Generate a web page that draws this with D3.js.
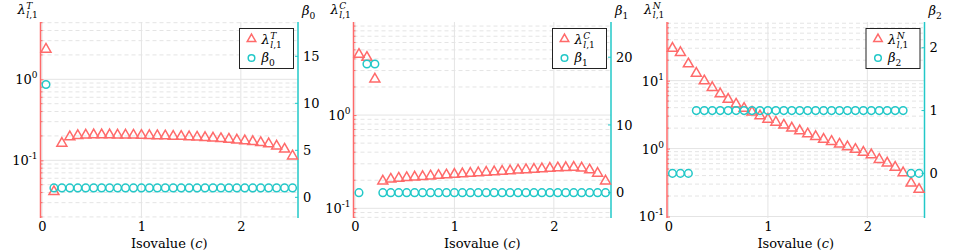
<!DOCTYPE html>
<html>
<head>
<meta charset="utf-8">
<script src="https://cdn.jsdelivr.net/npm/d3@7"></script>
<style>
  body { margin: 0; background: #fff; }
  svg text { font-family: "DejaVu Serif", "Liberation Serif", serif; fill: #000; }
</style>
</head>
<body>
<div id="chart"></div>
<script>
var svgWidth = 960;
var svgHeight = 252;

// isovalues (shared x for all panels)
var isovalues = [0.04, 0.12, 0.20, 0.28, 0.36, 0.44, 0.52, 0.60, 0.68, 0.76, 0.84, 0.92,
    1.00, 1.08, 1.16, 1.24, 1.32, 1.40, 1.48, 1.56, 1.64, 1.72, 1.80, 1.88,
    1.96, 2.04, 2.12, 2.20, 2.28, 2.36, 2.44, 2.52];

var lambdaT = [2.35, 0.041, 0.162, 0.195, 0.202, 0.205, 0.206, 0.206, 0.206, 0.205, 0.205, 0.204,
    0.203, 0.202, 0.201, 0.200, 0.198, 0.197, 0.195, 0.193, 0.191, 0.188, 0.185, 0.182,
    0.178, 0.174, 0.170, 0.165, 0.160, 0.150, 0.137, 0.113];
var beta0 = [12, 1, 1, 1, 1, 1, 1, 1, 1, 1, 1, 1, 1, 1, 1, 1,
    1, 1, 1, 1, 1, 1, 1, 1, 1, 1, 1, 1, 1, 1, 1, 1];

var lambdaC = [4.47, 4.15, 2.43, 0.196, 0.205, 0.210, 0.213, 0.216, 0.219, 0.222, 0.225, 0.228,
    0.231, 0.234, 0.237, 0.240, 0.243, 0.246, 0.249, 0.252, 0.256, 0.259, 0.262, 0.265,
    0.268, 0.271, 0.273, 0.275, 0.270, 0.258, 0.237, 0.196];
var beta1 = [0, 19, 19, 0, 0, 0, 0, 0, 0, 0, 0, 0, 0, 0, 0, 0,
    0, 0, 0, 0, 0, 0, 0, 0, 0, 0, 0, 0, 0, 0, 0, 0];

var lambdaN = [29.9, 25.9, 17.6, 12.8, 9.9, 7.9, 6.4, 5.3, 4.5, 3.9, 3.43, 3.02,
    2.7, 2.44, 2.21, 2.0, 1.82, 1.64, 1.5, 1.37, 1.27, 1.16, 1.06, 0.97,
    0.88, 0.81, 0.69, 0.61, 0.53, 0.44, 0.31, 0.25];
var beta2 = [0, 0, 0, 1, 1, 1, 1, 1, 1, 1, 1, 1, 1, 1, 1, 1,
    1, 1, 1, 1, 1, 1, 1, 1, 1, 1, 1, 1, 1, 1, 0, 0];

var xTicks = [0, 1, 2];
var betaTicks = [[0, 5, 10, 15], [0, 10, 20], [0, 1, 2]];

var red = "#ff6a6a";
var cyan = "#22c8c8";

var panels = [
    { left: 40.5, lam: lambdaT, beta: beta0, sup: "T", bsub: "0", logDom: [0.0194, 5.1], betaDom: [-2.2, 18.65], betaTicks: betaTicks[0], legX: 239.5 },
    { left: 353.5, lam: lambdaC, beta: beta1, sup: "C", bsub: "1", logDom: [0.0787, 9.95], betaDom: [-3.74, 25.2], betaTicks: betaTicks[1], legX: 552.5 },
    { left: 667, lam: lambdaN, beta: beta2, sup: "N", bsub: "2", logDom: [0.095, 73], betaDom: [-0.71, 2.41], betaTicks: betaTicks[2], legX: 866 }
];

var plotW = 257.5;
var plotTop = 22;
var plotBottom = 218;
var fontSize = 13;

var svg = d3.select("#chart")
    .append("svg")
    .attr("width", svgWidth)
    .attr("height", svgHeight);

// lambda with stacked super/subscript
function lambdaLabel(g, x, y, sup, size) {
    var t = g.append("text").attr("x", x).attr("y", y)
        .attr("font-size", size).attr("font-style", "italic").text("λ");
    var w = t.node().getComputedTextLength();
    g.append("text").attr("x", x + w + 0.5).attr("y", y - size * 0.42)
        .attr("font-size", size * 0.7).attr("font-style", "italic").text(sup);
    g.append("text").attr("x", x + w + 0.5).attr("y", y + size * 0.3)
        .attr("font-size", size * 0.7)
        .html('<tspan font-style="italic">l</tspan>,1');
}

function betaLabel(g, x, y, sub, size) {
    var t = g.append("text").attr("x", x).attr("y", y)
        .attr("font-size", size).attr("font-style", "italic").text("β");
    var w = t.node().getComputedTextLength();
    g.append("text").attr("x", x + w).attr("y", y + size * 0.3)
        .attr("font-size", size * 0.7).text(sub);
}

function triPath(s) {
    var h = s * Math.sqrt(3) / 2;
    return "M0," + (-h * 2 / 3) + "L" + (s / 2) + "," + (h / 3) + "L" + (-s / 2) + "," + (h / 3) + "Z";
}

panels.forEach(function (p) {
    var g = svg.append("g");

    var x = d3.scaleLinear().domain([-0.015, 2.575]).range([p.left, p.left + plotW]);
    var yL = d3.scaleLog().domain(p.logDom).range([plotBottom, plotTop]);
    var yR = d3.scaleLinear().domain(p.betaDom).range([plotBottom, plotTop]);

    // log gridlines: minor dashed, decades solid
    var lo = Math.floor(Math.log10(p.logDom[0]));
    var hi = Math.ceil(Math.log10(p.logDom[1]));
    var minor = [], major = [];
    for (var e = lo; e <= hi; e++) {
        for (var m = 1; m < 10; m++) {
            var v = m * Math.pow(10, e);
            if (v < p.logDom[0] || v > p.logDom[1]) continue;
            if (m === 1) major.push(v); else minor.push(v);
        }
    }

    g.append("g").selectAll("line").data(minor).enter().append("line")
        .attr("x1", p.left).attr("x2", p.left + plotW)
        .attr("y1", d => yL(d)).attr("y2", d => yL(d))
        .attr("stroke", "#e4e4e4").attr("stroke-width", 1)
        .attr("stroke-dasharray", "4,3");

    g.append("g").selectAll("line").data(major).enter().append("line")
        .attr("x1", p.left).attr("x2", p.left + plotW)
        .attr("y1", d => yL(d)).attr("y2", d => yL(d))
        .attr("stroke", "#e4e4e4").attr("stroke-width", 1);

    g.append("g").selectAll("line").data(xTicks).enter().append("line")
        .attr("x1", d => x(d)).attr("x2", d => x(d))
        .attr("y1", plotTop).attr("y2", plotBottom)
        .attr("stroke", "#e4e4e4").attr("stroke-width", 1);

    // left (log) axis
    var leftAxis = d3.axisLeft(yL).tickValues(major).tickSize(-3).tickFormat("");
    var la = g.append("g").attr("transform", `translate(${p.left},0)`).call(leftAxis);
    la.select(".domain").remove();
    la.selectAll(".tick line").attr("stroke", red);
    g.append("g").selectAll("line").data(minor).enter().append("line")
        .attr("x1", p.left).attr("x2", p.left + 2)
        .attr("y1", d => yL(d)).attr("y2", d => yL(d))
        .attr("stroke", red).attr("stroke-width", 1);
    g.append("line").attr("x1", p.left).attr("x2", p.left)
        .attr("y1", plotTop).attr("y2", plotBottom)
        .attr("stroke", red).attr("stroke-width", 1.5);

    major.forEach(function (v) {
        var ex = Math.round(Math.log10(v));
        g.append("text").attr("x", p.left - 3).attr("y", yL(v) + 5)
            .attr("text-anchor", "end").attr("font-size", fontSize)
            .html('10<tspan dy="-6" font-size="9">' + ex + '</tspan>');
    });

    // right (linear) axis
    var rightAxis = d3.axisRight(yR).tickValues(p.betaTicks).tickSize(0).tickPadding(5)
        .tickFormat(d3.format("d"));
    var ra = g.append("g").attr("transform", `translate(${p.left + plotW},0)`).call(rightAxis);
    ra.select(".domain").remove();
    ra.attr("font-family", null).attr("font-size", null);
    ra.selectAll(".tick text").attr("font-size", fontSize).attr("fill", "#000");
    g.append("g").selectAll("line").data(p.betaTicks).enter().append("line")
        .attr("x1", p.left + plotW - 3).attr("x2", p.left + plotW)
        .attr("y1", d => yR(d)).attr("y2", d => yR(d))
        .attr("stroke", cyan).attr("stroke-width", 1);
    g.append("line").attr("x1", p.left + plotW).attr("x2", p.left + plotW)
        .attr("y1", plotTop).attr("y2", plotBottom)
        .attr("stroke", cyan).attr("stroke-width", 1.5);

    // x tick labels
    var bottomAxis = d3.axisBottom(x).tickValues(xTicks).tickSize(0).tickPadding(4).tickFormat(d3.format("d"));
    var ba = g.append("g").attr("transform", `translate(0,${plotBottom})`).call(bottomAxis);
    ba.select(".domain").remove();
    ba.attr("font-family", null).attr("font-size", null);
    ba.selectAll(".tick text").attr("font-size", fontSize).attr("fill", "#000");

    g.append("text").attr("x", p.left + plotW / 2).attr("y", 248)
        .attr("text-anchor", "middle").attr("font-size", fontSize)
        .html('Isovalue (<tspan font-style="italic">c</tspan>)');

    // axis titles
    lambdaLabel(g, p.left - 23, 14, p.sup, fontSize);
    betaLabel(g, p.left + plotW + 4, 15, p.bsub, fontSize);

    // markers
    g.append("g").selectAll("path").data(p.lam).enter().append("path")
        .attr("d", triPath(10))
        .attr("transform", (d, i) => `translate(${x(isovalues[i])},${yL(d)})`)
        .attr("fill", "none").attr("stroke", red).attr("stroke-width", 1.5);

    g.append("g").selectAll("circle").data(p.beta).enter().append("circle")
        .attr("cx", (d, i) => x(isovalues[i]))
        .attr("cy", d => yR(d))
        .attr("r", 3.8)
        .attr("fill", "none").attr("stroke", cyan).attr("stroke-width", 1.5);

    // legend
    var lg = g.append("g");
    lg.append("rect").attr("x", p.legX).attr("y", 28.5).attr("width", 54).attr("height", 40)
        .attr("fill", "#fff").attr("stroke", "#222").attr("stroke-width", 1);
    lg.append("path").attr("d", triPath(8.5))
        .attr("transform", `translate(${p.legX + 12},${39})`)
        .attr("fill", "none").attr("stroke", red).attr("stroke-width", 1.5);
    lg.append("circle").attr("cx", p.legX + 12).attr("cy", 58).attr("r", 3.3)
        .attr("fill", "none").attr("stroke", cyan).attr("stroke-width", 1.5);
    lambdaLabel(lg, p.legX + 22, 44, p.sup, fontSize);
    betaLabel(lg, p.legX + 22, 62, p.bsub, fontSize);
});
</script>
</body>
</html>
